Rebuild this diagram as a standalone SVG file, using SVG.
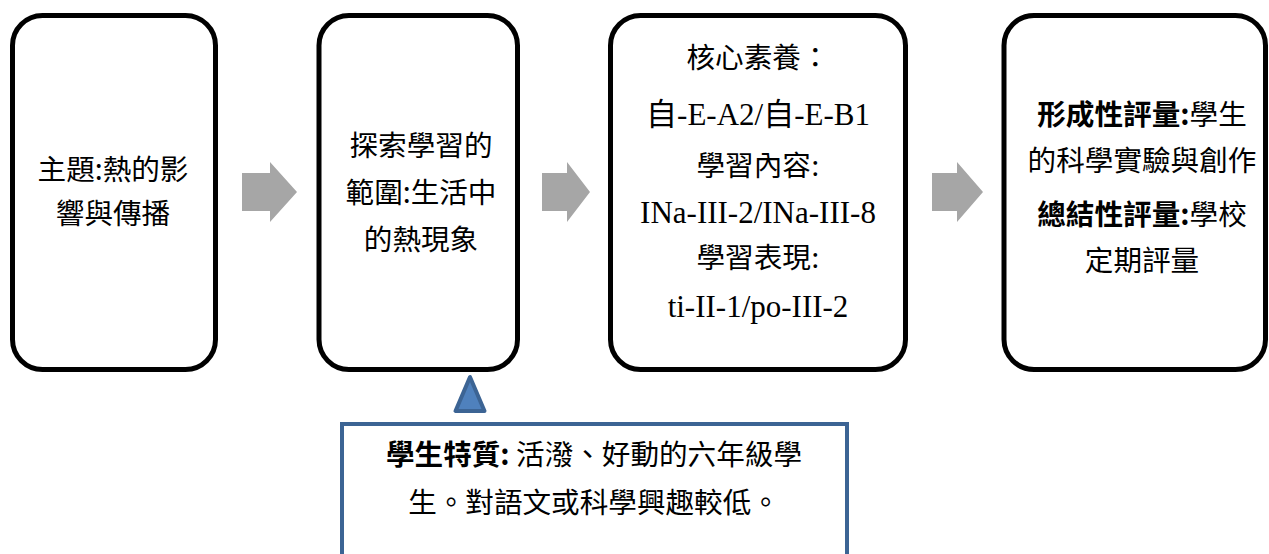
<svg xmlns="http://www.w3.org/2000/svg" width="1269" height="554" viewBox="0 0 1269 554">
<style>
.box{fill:#fff;stroke:#000;stroke-width:5}
.arr{fill:#a6a6a6;stroke:none}
.cjk{font-family:"Noto Sans CJK TC","Noto Sans CJK SC",sans-serif;font-size:28.6px;fill:#000;text-anchor:middle}
.ser{font-family:"Liberation Serif","Noto Sans CJK TC",serif;font-size:31px;fill:#000;text-anchor:middle}
.b{font-weight:bold}
</style>
<rect width="1269" height="554" fill="#fff"/>
<g id="connectors">
<polygon class="arr" points="242,173 270,173 270,162 297,192 270,222 270,211 242,211"/>
<polygon class="arr" points="542,173 567,173 567,162 590,192 567,222 567,211 542,211"/>
<polygon class="arr" points="932,173 957,173 957,162 983,192 957,222 957,211 932,211"/>
<polygon points="470,377 455.5,411 484.5,411" fill="#4f81bd" stroke="#3c6494" stroke-width="4" stroke-linejoin="round"/>
</g>
<g id="node-theme">
<rect class="box" x="12.5" y="15.5" width="203" height="354" rx="30"/>
<text class="cjk" x="113" y="180">主題:熱的影</text>
<text class="cjk" x="113" y="224">響與傳播</text>
</g>
<g id="node-scope">
<rect class="box" x="319" y="15.5" width="198.5" height="354" rx="30"/>
<text class="cjk" x="421" y="156">探索學習的</text>
<text class="cjk" x="421" y="203">範圍:生活中</text>
<text class="cjk" x="421" y="250">的熱現象</text>
</g>
<g id="node-core">
<rect class="box" x="610.5" y="15.5" width="295" height="354" rx="30"/>
<text class="cjk" x="758" y="68">核心素養：</text>
<text class="ser" x="758" y="125">自-E-A2/自-E-B1</text>
<text class="cjk" x="758" y="176">學習內容<tspan class="ser">:</tspan></text>
<text class="ser" x="758" y="223">INa-III-2/INa-III-8</text>
<text class="cjk" x="758" y="268">學習表現<tspan class="ser">:</tspan></text>
<text class="ser" x="758" y="317">ti-II-1/po-III-2</text>
</g>
<g id="node-assessment">
<rect class="box" x="1004" y="15.5" width="261.5" height="354" rx="30"/>
<text class="cjk" x="1142" y="125"><tspan class="b">形成性評量:</tspan>學生</text>
<text class="cjk" x="1142" y="171">的科學實驗與創作</text>
<text class="cjk" x="1142" y="225"><tspan class="b">總結性評量:</tspan>學校</text>
<text class="cjk" x="1142" y="271">定期評量</text>
</g>
<g id="node-students">
<rect x="342" y="424" width="505" height="160" fill="#fff" stroke="#3c6494" stroke-width="4"/>
<text class="cjk" x="594" y="465"><tspan class="b">學生特質:</tspan> 活潑、好動的六年級學</text>
<text class="cjk" x="594" y="513">生。對語文或科學興趣較低。</text>
</g>
</svg>
